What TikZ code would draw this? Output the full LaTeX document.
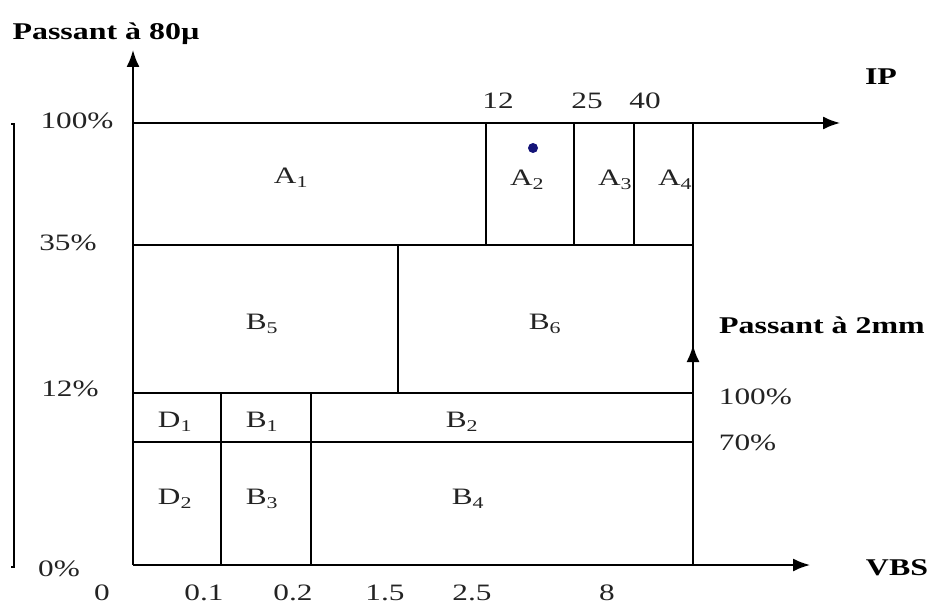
\documentclass[tikz,border=0pt]{standalone}
\usepackage{fontspec}
\setmainfont{Liberation Serif}[FakeStretch=1.33]
\usetikzlibrary{arrows.meta}
\definecolor{navy}{RGB}{20,20,120}
\definecolor{txt}{RGB}{35,35,35}
\begin{document}
\begin{tikzpicture}[x=1pt,y=-1pt,line width=1.8pt,
  lbl/.style={inner sep=0pt,text=txt,font=\fontsize{23.5}{28}\selectfont},
  blbl/.style={inner sep=0pt,text=black,font=\fontsize{24}{28}\selectfont\bfseries},
  arr/.style={-{Latex[length=17pt,width=13pt]}}]
\useasboundingbox (0,0) rectangle (931,604);
% coordinates
\coordinate (o) at (133,565);
\coordinate (ytip) at (133,50);
\coordinate (tl) at (133,123);
\coordinate (tr) at (693,123);
\coordinate (iptip) at (840,123);
\coordinate (br) at (693,565);
\coordinate (xtip) at (810,565);
\coordinate (rtip) at (693,345);
% axes
\draw[arr] (o) -- (ytip);
\draw[arr] (tl) -- (iptip);
\draw[arr] (o) -- (xtip);
\draw (tr) -- (br);
\draw[arr] (br) -- (rtip);
% grid
\draw (133,245) -- (693,245);
\draw (486,123) -- (486,245);
\draw (574,123) -- (574,245);
\draw (634,123) -- (634,245);
\draw (398,245) -- (398,393);
\draw (133,393) -- (693,393);
\draw (133,442) -- (693,442);
\draw (221,393) -- (221,565);
\draw (311,393) -- (311,565);
% left bracket
\draw[line width=1.6pt] (11,124) -- (14,124) -- (14,567) -- (11,567);
% dot
\fill[navy] (533,148) circle (5);
% axis titles
\node[blbl] (t80) at (106,34) {Passant à 80µ};
\node[blbl] (tip) at (881,77) {IP};
\node[blbl] (t2mm) at (822,325) {Passant à 2mm};
\node[blbl] (tvbs) at (897,568) {VBS};
% left scale
\node[lbl] (p100) at (77,121) {100\%};
\node[lbl] (p35) at (68,243) {35\%};
\node[lbl] (p12) at (70,389) {12\%};
\node[lbl] (p0) at (59,569) {0\%};
% right scale
\node[lbl,anchor=west] (q100) at (718,397) {100\%};
\node[lbl,anchor=west] (q70) at (718,443) {70\%};
% IP ticks
\node[lbl] (i12) at (498,101) {12};
\node[lbl] (i25) at (587,101) {25};
\node[lbl] (i40) at (645,101) {40};
% VBS ticks
\node[lbl] (v0) at (102,593) {0};
\node[lbl] (v01) at (204,593) {0.1};
\node[lbl] (v02) at (293,593) {0.2};
\node[lbl] (v15) at (385,593) {1.5};
\node[lbl] (v25) at (472,593) {2.5};
\node[lbl] (v8) at (607,593) {8};
% cells
\node[lbl] (A1) at (291,178) {A\textsubscript{1}};
\node[lbl] (A2) at (527,180) {A\textsubscript{2}};
\node[lbl] (A3) at (615,180) {A\textsubscript{3}};
\node[lbl] (A4) at (675,180) {A\textsubscript{4}};
\node[lbl] (B5) at (262,324) {B\textsubscript{5}};
\node[lbl] (B6) at (545,324) {B\textsubscript{6}};
\node[lbl] (D1) at (175,422) {D\textsubscript{1}};
\node[lbl] (B1) at (262,422) {B\textsubscript{1}};
\node[lbl] (B2) at (462,422) {B\textsubscript{2}};
\node[lbl] (D2) at (175,499) {D\textsubscript{2}};
\node[lbl] (B3) at (262,499) {B\textsubscript{3}};
\node[lbl] (B4) at (468,499) {B\textsubscript{4}};
\end{tikzpicture}
\end{document}
